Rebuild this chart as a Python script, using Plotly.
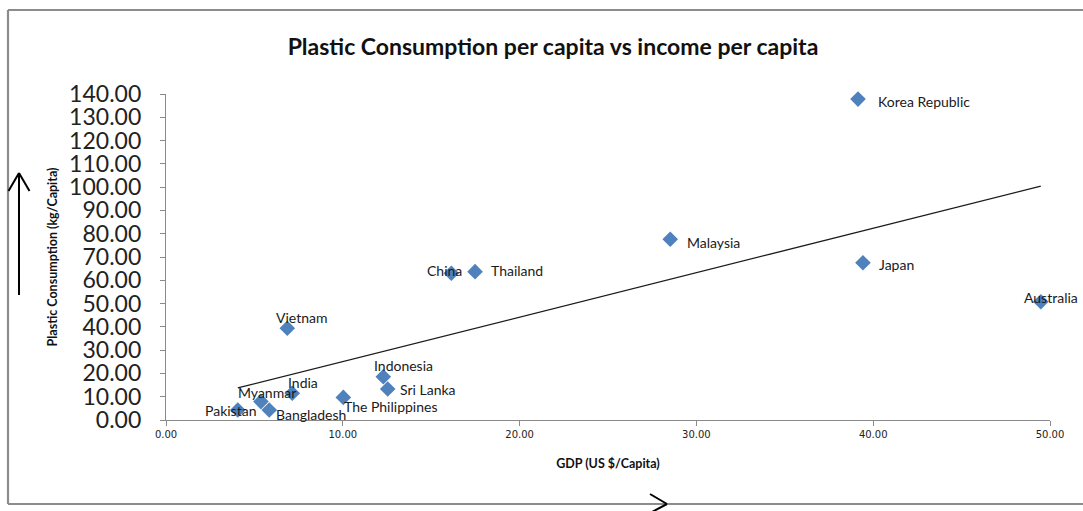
import numpy as np
import plotly.graph_objects as go

# ---- data ----
countries = ["Korea Republic", "Malaysia", "Japan", "Australia", "China", "Thailand",
             "Vietnam", "Indonesia", "Sri Lanka", "India", "The Philippines",
             "Myanmar", "Bangladesh", "Pakistan"]
gdp = [39.14, 28.52, 39.42, 49.48, 16.14, 17.48, 6.86, 12.29, 12.54, 7.14, 10.03, 5.37, 5.84, 4.06]
plastic = [137.8, 77.6, 67.5, 50.8, 63.0, 63.7, 39.4, 18.6, 13.3, 11.5, 9.7, 7.9, 4.3, 4.3]
x_ticks = [0, 10, 20, 30, 40, 50]
y_ticks = [0, 10, 20, 30, 40, 50, 60, 70, 80, 90, 100, 110, 120, 130, 140]

# ---- label placement (style only: anchor, x shift px, y shift px) ----
label_style = {
    "Korea Republic": ("left", 18, -2.5),
    "Malaysia": ("left", 15, -3),
    "Japan": ("left", 14, -1.5),
    "Australia": ("center", 10, 4.5),
    "China": ("center", -7, 2.6),
    "Thailand": ("left", 14, 0.7),
    "Vietnam": ("center", 15, 11),
    "Indonesia": ("center", 20, 11),
    "Sri Lanka": ("left", 10, 0),
    "India": ("center", 11, 10.6),
    "The Philippines": ("left", -1, -8.7),
    "Myanmar": ("center", 6, 9),
    "Bangladesh": ("left", 5, -5),
    "Pakistan": ("center", -7.7, -1),
}

FONT = "Lato"
W, H = 1083, 511
L, R, T, B = 166, 33, 94, 91
PW, PH = W - L - R, H - T - B


def px(X):
    return (X - L) / PW


def py(Y):
    return (H - B - Y) / PH


fig = go.Figure()

# linear trendline fitted to the data, spanning the data range
coef = np.polyfit(gdp, plastic, 1)
xt = np.array([min(gdp), max(gdp)])
fig.add_trace(go.Scatter(x=xt, y=np.polyval(coef, xt), mode="lines",
                         line=dict(color="#1a1a1a", width=1.3),
                         hoverinfo="skip", showlegend=False))

fig.add_trace(go.Scatter(x=gdp, y=plastic, mode="markers", text=countries,
                         marker=dict(symbol="diamond", size=12, color="#4F81BD",
                                     line=dict(width=0)),
                         cliponaxis=False, showlegend=False))

annotations = []
for c, xv, yv in zip(countries, gdp, plastic):
    anchor, dx, dy = label_style[c]
    annotations.append(dict(x=xv, y=yv, xref="x", yref="y", text=c, showarrow=False,
                            xanchor=anchor, yanchor="middle", xshift=dx, yshift=dy,
                            font=dict(family=FONT, size=14, color="#1a1a1a")))

fig.update_layout(
    width=W, height=H, autosize=False,
    margin=dict(l=L, r=R, t=T, b=B, pad=0),
    paper_bgcolor="white", plot_bgcolor="white",
    title=dict(text="<b>Plastic Consumption per capita vs income per capita</b>",
               x=553 / W, xanchor="center", y=1 - 47 / H, yanchor="middle",
               font=dict(family=FONT, size=23, color="#111")),
    xaxis=dict(range=[0, 50], tickvals=x_ticks, tickformat=".2f",
               showgrid=False, zeroline=False, showline=True, linecolor="#8a8a8a",
               linewidth=1.3, ticks="outside", ticklen=5, tickcolor="#8a8a8a",
               tickfont=dict(family="DejaVu Sans", size=10, color="#222"),
               title=dict(text="<b>GDP (US $/Capita)</b>", standoff=20,
                          font=dict(family=FONT, size=12.5, color="#111"))),
    yaxis=dict(range=[0, 140], tickvals=y_ticks, tickformat=".2f",
               showgrid=False, zeroline=False, showline=True, linecolor="#8a8a8a",
               linewidth=1.3, ticks="outside", ticklen=5, tickcolor="#8a8a8a",
               ticklabelstandoff=14,
               tickfont=dict(family=FONT, size=23, color="#222"),
               title=dict(text="<b>Plastic Consumption (kg/Capita)</b>", standoff=8,
                          font=dict(family=FONT, size=12.5, color="#111"))),
    annotations=annotations,
    showlegend=False,
)

shapes = []
# chart frame (gray)
frame = dict(type="line", xref="paper", yref="paper",
             line=dict(color="#8c8c8c", width=2.2), layer="below")
shapes.append({**frame, "x0": px(8), "y0": py(10), "x1": px(1090), "y1": py(10)})
shapes.append({**frame, "x0": px(8), "y0": py(10), "x1": px(8), "y1": py(504)})
shapes.append({**frame, "x0": px(8), "y0": py(504), "x1": px(1090), "y1": py(504)})
# vertical arrow
arr = dict(type="line", xref="paper", yref="paper", line=dict(color="black", width=2))
shapes.append({**arr, "x0": px(19), "y0": py(295), "x1": px(19), "y1": py(173)})
shapes.append({**arr, "x0": px(8.5), "y0": py(191), "x1": px(19), "y1": py(173)})
shapes.append({**arr, "x0": px(29.5), "y0": py(191), "x1": px(19), "y1": py(173)})
# horizontal arrow head on the bottom edge
shapes.append({**arr, "x0": px(650), "y0": py(494), "x1": px(667), "y1": py(504)})
shapes.append({**arr, "x0": px(652), "y0": py(512), "x1": px(667), "y1": py(504)})
fig.update_layout(shapes=shapes)

fig.write_html("out.html")
